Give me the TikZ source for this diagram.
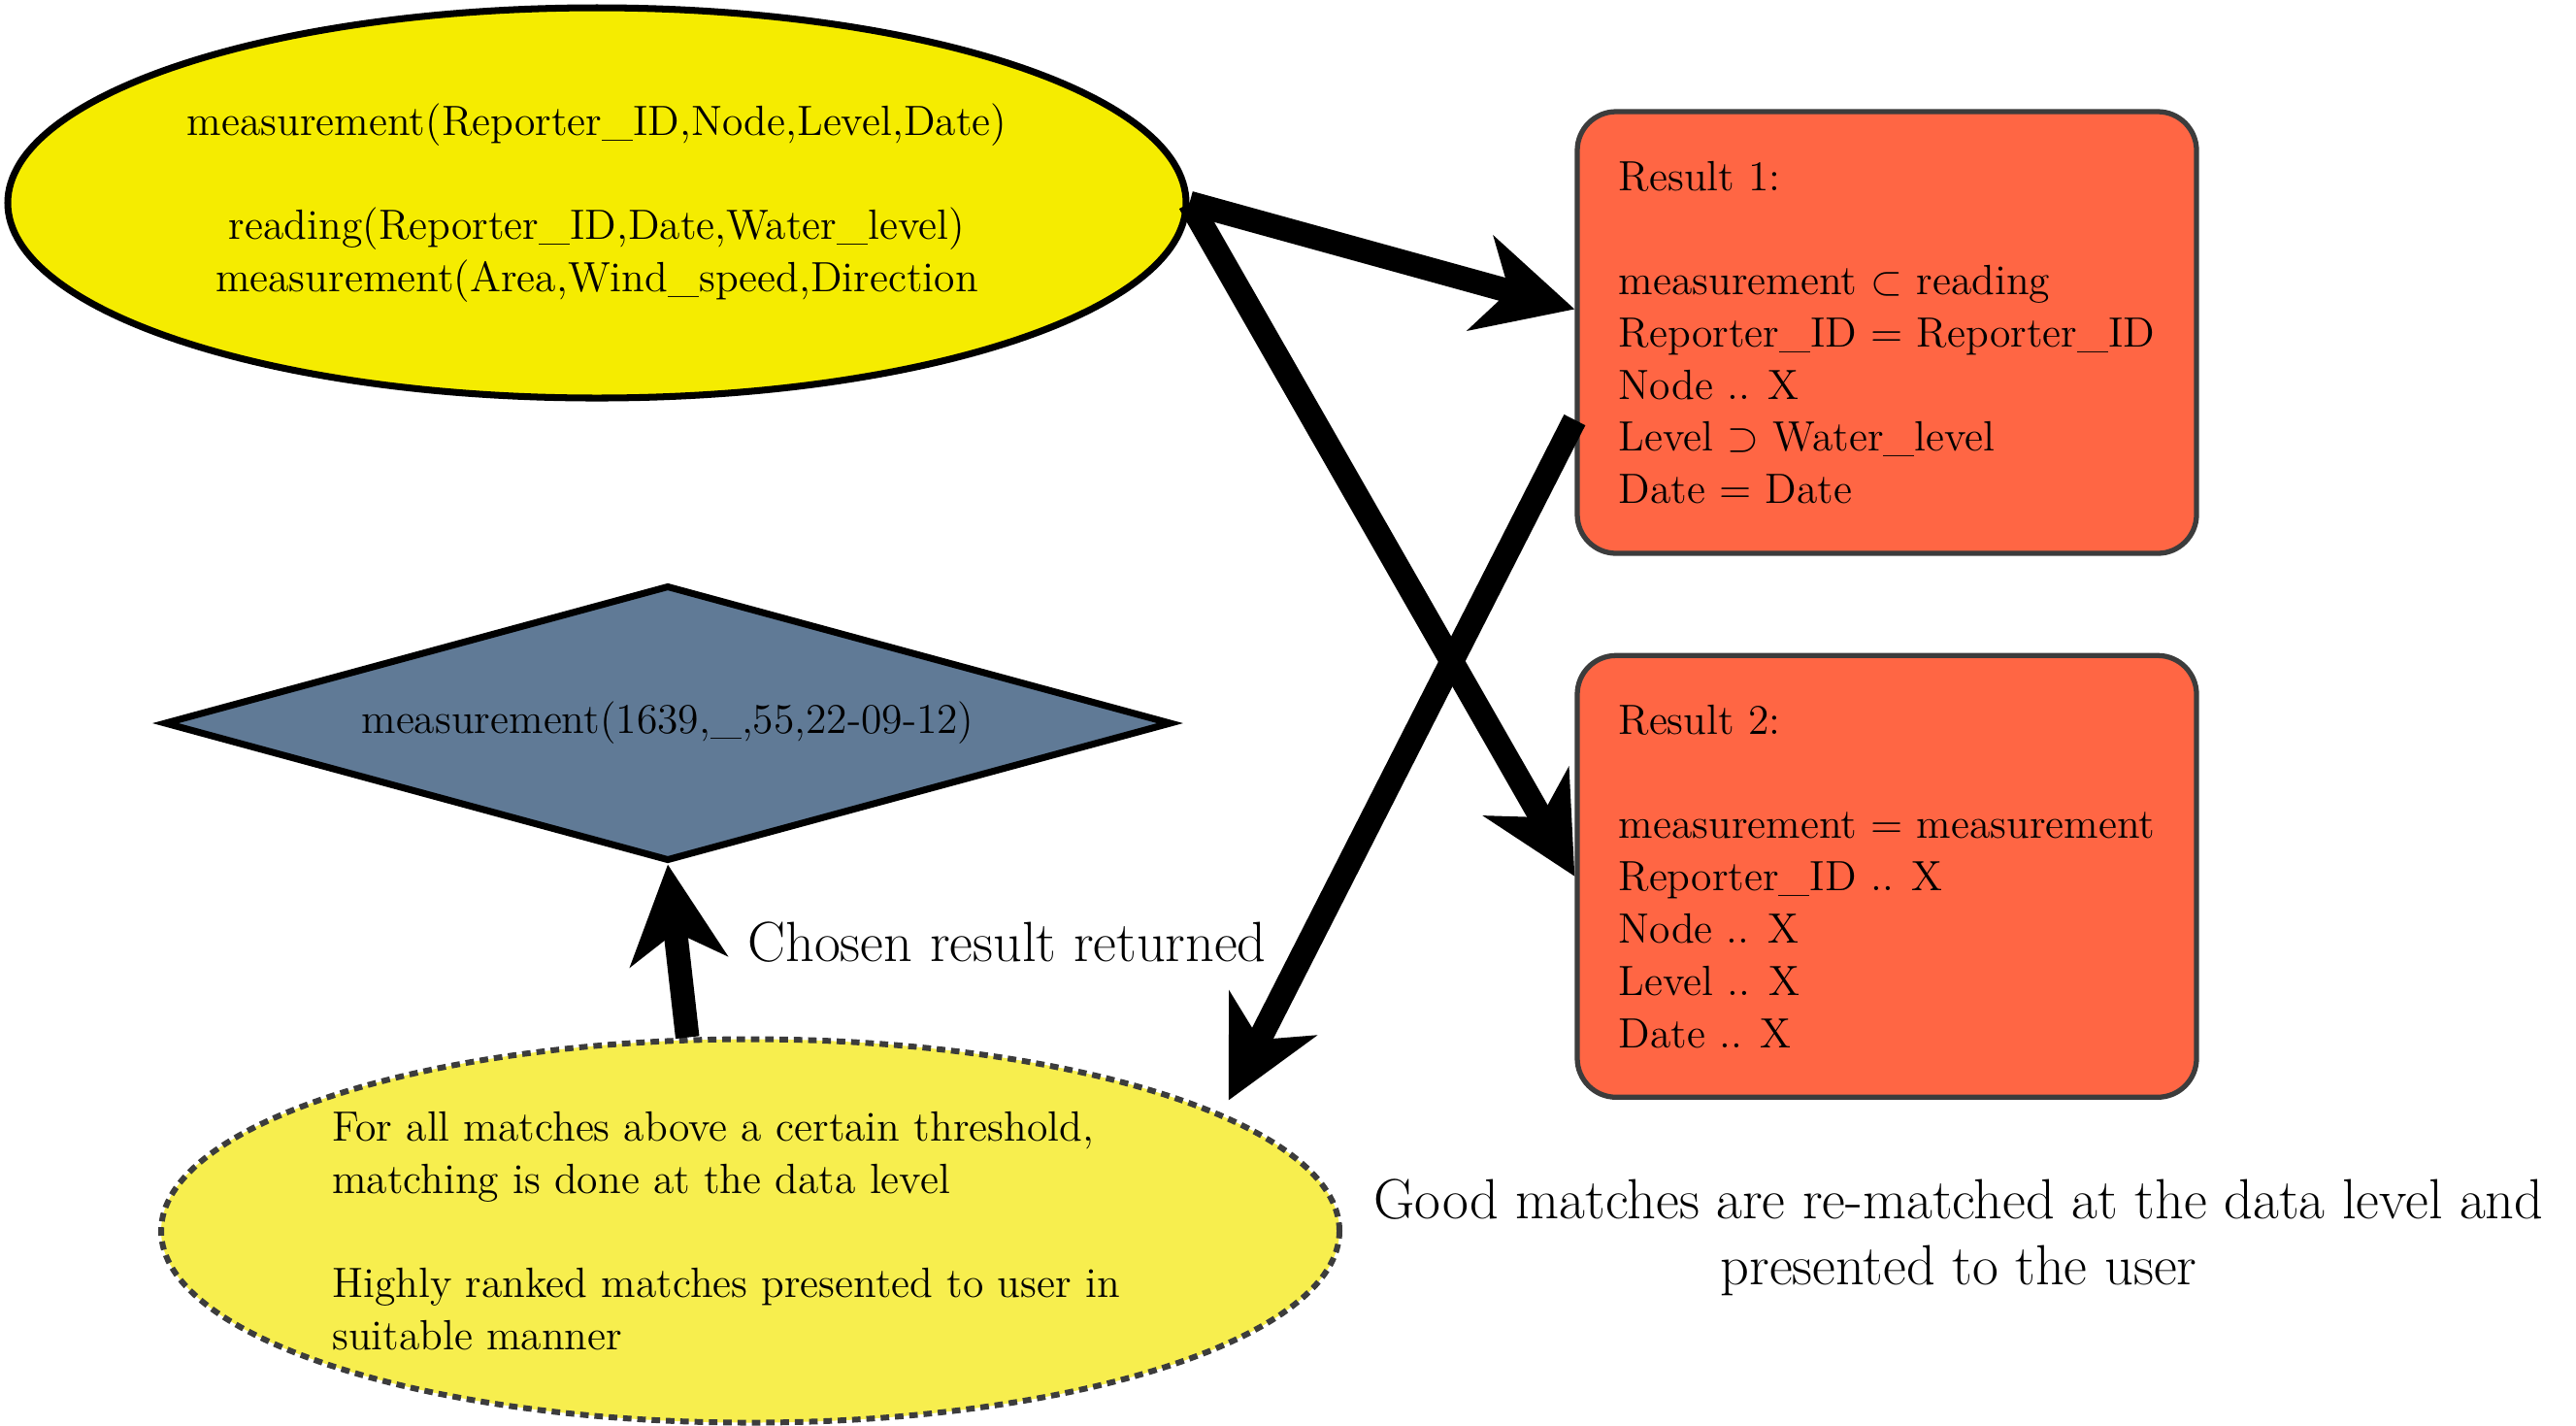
\documentclass[tikz,border=0pt]{standalone}
\usetikzlibrary{shapes.geometric,arrows.meta,positioning}
\definecolor{srcyellow}{RGB}{245,236,0}
\definecolor{goalyellow}{RGB}{247,238,78}
\definecolor{resultred}{RGB}{255,102,68}
\definecolor{slateblue}{RGB}{96,122,150}
\definecolor{rimgrey}{RGB}{60,60,60}

\begin{document}
\begin{tikzpicture}[
		txt/.style = {font=\fontsize{12.4}{15.3}\selectfont},
		bigtxt/.style = {font=\fontsize{16.6}{19.4}\selectfont, inner sep=0pt},
		query/.style = {ellipse, draw, line width=2pt, fill=srcyellow, minimum width=12.14cm, minimum height=4.02cm, inner sep=0pt, align=center, txt},
		result/.style = {rectangle, rounded corners=4mm, draw=rimgrey, line width=1.5pt, fill=resultred, minimum width=6.38cm, minimum height=4.55cm, align=left, txt},
		answer/.style = {diamond, draw, line width=2pt, fill=slateblue, aspect=3.65, minimum width=10.38cm, minimum height=2.84cm, inner sep=0pt, txt},
		matcher/.style = {ellipse, draw=rimgrey, dash pattern=on 2.5pt off 1.7pt, line width=1.7pt, fill=goalyellow, minimum width=12.14cm, minimum height=3.95cm},
		fat/.style = {line width=7pt, -{Stealth[length=10mm, width=10mm, inset=3mm]}}
	]
	\useasboundingbox (0,0) rectangle (26.54,-14.68);
	
	\node[query] (src) at (6.15,-2.09) {measurement(Reporter\_ID,Node,Level,Date)\\[\baselineskip]
		reading(Reporter\_ID,Date,Water\_level)\\
		measurement(Area,Wind\_speed,Direction};
	\node[result] (res1) at (19.44,-3.425) {Result 1:\\[\baselineskip]
		measurement $\subset$ reading\\
		Reporter\_ID = Reporter\_ID\\
		Node .. X\\
		Level $\supset$ Water\_level\\
		Date = Date};
	\node[result, below=1cm of res1] (res2) {Result 2:\\[\baselineskip]
		measurement = measurement\\
		Reporter\_ID .. X\\
		Node .. X\\
		Level .. X\\
		Date .. X};
	\node[answer] (dia) at (6.88,-7.45) {measurement(1639,\_,55,22-09-12)};
	\node[matcher] (goal) at (7.73,-12.68) {};
	\node[txt, align=left, xshift=-2.5mm] (goaltext) at (goal.center) {For all matches above a certain threshold,\\
		matching is done at the data level\\[\baselineskip]
		Highly ranked matches presented to user in\\
		suitable manner};
	\node[bigtxt, align=center] (note) at (20.18,-12.75) {Good matches are re-matched at the data level and\\ presented to the user};
	
	\draw[fat] (src.east) -- ([yshift=2.4mm]res1.west);
	\draw[fat] (src.east) -- (res2.west);
	\draw[fat, shorten >=1.5mm] ([yshift=-9mm]res1.west) -- (goal.14);
	\draw[fat] (goal.108) -- node[bigtxt, pos=0.55, anchor=west, xshift=6.1mm] (chosen) {Chosen result returned} (dia.south);
\end{tikzpicture}
\end{document}
